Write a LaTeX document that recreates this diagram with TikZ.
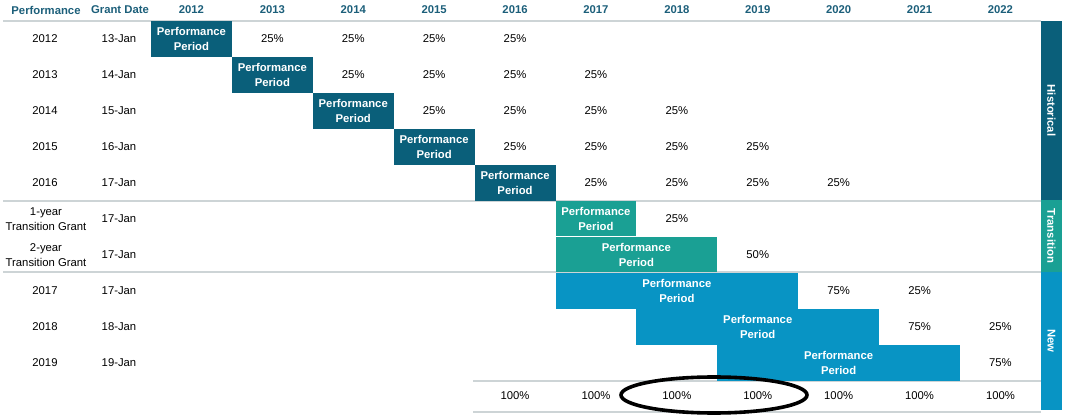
\documentclass[tikz,border=0pt]{standalone}
\usepackage{fontspec}
\setmainfont{Liberation Sans}
\definecolor{hist}{RGB}{10,95,122}
\definecolor{trans}{RGB}{26,160,148}
\definecolor{newc}{RGB}{8,148,196}
\definecolor{hdr}{RGB}{28,95,122}
\definecolor{rulec}{RGB}{205,212,214}
\begin{document}
\begin{tikzpicture}[x=1pt,y=-1pt,
  every node/.style={inner sep=0pt, font=\fontsize{11.3}{15}\selectfont},
  hdrtxt/.style={text=hdr, font=\fontsize{11.3}{15}\selectfont\bfseries},
  ppbox/.style={text=white, align=center, minimum height=36, font=\fontsize{11.3}{15}\selectfont\bfseries},
  sidebar/.style={text=white, rotate=-90, font=\fontsize{11.3}{15}\selectfont\bfseries},
  cell/.style={align=center},
  sep/.style={draw=rulec, line width=1.6pt}]
\useasboundingbox (0,0) rectangle (1071,419);
\def\cw{80.9}
% header
\node[hdrtxt] (hperf) at (46,10) {Performance};
\node[hdrtxt] (hgrant) at (120,10) {Grant Date};
\foreach \i in {0,...,10}{
  \pgfmathtruncatemacro\yr{2012+\i}
  \node[hdrtxt] (h\yr) at ({151+\cw*(\i+0.5)},10) {\yr};
}
% separators
\draw[sep] (3,21) -- (1041,21);
\draw[sep] (3,201) -- (1041,201);
\draw[sep] (3,272) -- (1041,272);
\draw[sep] (473,381) -- (1041,381);
\draw[sep] (473,412) -- (1041,412);
% historical rows
\foreach \r/\d in {0/13,1/14,2/15,3/16,4/17}{
  \pgfmathtruncatemacro\yr{2012+\r}
  \node (perf\yr) at (45,{39+36*\r}) {\yr};
  \node (gd\yr) at (119,{39+36*\r}) {\d-Jan};
  \node[ppbox, fill=hist, minimum width=\cw] (pp\yr) at ({151+\cw*(\r+0.5)},{39+36*\r}) {Performance\\Period};
  \foreach \k in {1,...,4}{
    \node (pc\yr-\k) at ({151+\cw*(\r+\k+0.5)},{39+36*\r}) {25\%};
  }
}
% transition rows
\node[cell] (perfT1) at (46,219) {1-year\\Transition Grant};
\node (gdT1) at (119,219) {17-Jan};
\node[cell] (perfT2) at (46,255) {2-year\\Transition Grant};
\node (gdT2) at (119,255) {17-Jan};
\node[ppbox, fill=trans, minimum width=\cw, minimum height=35] (ppT1) at ({151+\cw*5.5},219) {Performance\\Period};
\node[ppbox, fill=trans, minimum width=2*\cw, minimum height=35] (ppT2) at ({151+\cw*6},254.5) {Performance\\Period};
\node (pcT1) at ({151+\cw*6.5},219) {25\%};
\node (pcT2) at ({151+\cw*7.5},255) {50\%};
% new rows
\foreach \r/\d in {0/17,1/18,2/19}{
  \pgfmathtruncatemacro\yr{2017+\r}
  \node (perf\yr) at (45,{291+36*\r}) {\yr};
  \node (gd\yr) at (119,{291+36*\r}) {\d-Jan};
  \node[ppbox, fill=newc, minimum width=3*\cw] (pp\yr) at ({151+\cw*(\r+6.5)},{291+36*\r}) {Performance\\Period};
  \node (pa\yr) at ({151+\cw*(\r+8.5)},{291+36*\r}) {75\%};
}
\node (pb2017) at ({151+\cw*9.5},291) {25\%};
\node (pb2018) at ({151+\cw*10.5},327) {25\%};
% totals
\foreach \i in {4,...,10}{
  \pgfmathtruncatemacro\yr{2012+\i}
  \node (tot\yr) at ({151+\cw*(\i+0.5)},396) {100\%};
}
% highlight ellipse
\draw[line width=3.6pt, black] (714,395) ellipse [x radius=93, y radius=18];
% side bars
\fill[hist] (1041,21) rectangle (1062,200);
\fill[trans] (1041,200) rectangle (1062,272);
\fill[newc] (1041,272) rectangle (1062,410);
\node[sidebar] (sHist) at (1051.5,110.5) {Historical};
\node[sidebar] (sTrans) at (1051.5,236) {Transition};
\node[sidebar] (sNew) at (1051.5,341) {New};
\end{tikzpicture}
\end{document}
